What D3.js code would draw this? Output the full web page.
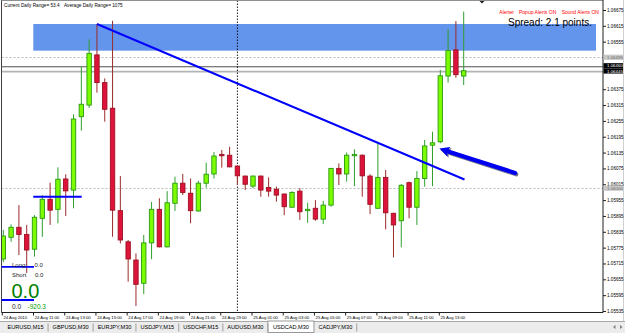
<!DOCTYPE html>
<html><head><meta charset="utf-8">
<script src="https://cdn.jsdelivr.net/npm/d3@7/dist/d3.min.js"></script>
<style>
body{margin:0;background:#fff;}
svg{display:block;font-family:"Liberation Sans",Arial,sans-serif;}
</style>
</head><body>
<svg id="c" width="625" height="333"></svg>
<script>
// ---- DATA (USDCAD, M30) ----
const bars = [
 "24 Aug 09:00","24 Aug 09:30","24 Aug 10:00","24 Aug 10:30","24 Aug 11:00","24 Aug 11:30","24 Aug 12:00","24 Aug 12:30",
 "24 Aug 13:00","24 Aug 13:30","24 Aug 14:00","24 Aug 14:30","24 Aug 15:00","24 Aug 15:30","24 Aug 16:00","24 Aug 16:30",
 "24 Aug 17:00","24 Aug 17:30","24 Aug 18:00","24 Aug 18:30","24 Aug 19:00","24 Aug 19:30","24 Aug 20:00","24 Aug 20:30",
 "24 Aug 21:00","24 Aug 21:30","24 Aug 22:00","24 Aug 22:30","24 Aug 23:00","24 Aug 23:30","25 Aug 00:00","25 Aug 00:30",
 "25 Aug 01:00","25 Aug 01:30","25 Aug 02:00","25 Aug 02:30","25 Aug 03:00","25 Aug 03:30","25 Aug 04:00","25 Aug 04:30",
 "25 Aug 05:00","25 Aug 05:30","25 Aug 06:00","25 Aug 06:30","25 Aug 07:00","25 Aug 07:30","25 Aug 08:00","25 Aug 08:30",
 "25 Aug 09:00","25 Aug 09:30","25 Aug 10:00","25 Aug 10:30","25 Aug 11:00","25 Aug 11:30","25 Aug 12:00","25 Aug 12:30",
 "25 Aug 13:00","25 Aug 13:30","25 Aug 14:00","25 Aug 14:30"];
const openP = [1.05732,1.05814,1.05852,1.05825,1.05769,1.05886,1.05958,1.05920,1.06035,1.05993,
 1.06271,1.06315,1.06505,1.06400,1.06303,1.05915,1.05797,1.05728,1.05640,1.05793,
 1.05920,1.05778,1.05943,1.06019,1.05981,1.05914,1.06019,1.06054,1.06128,1.06125,
 1.06084,1.06046,1.06008,1.06046,1.06003,1.05996,1.05978,1.05928,1.05989,1.05915,
 1.05924,1.05883,1.05936,1.06075,1.06054,1.06123,1.06125,1.06046,1.05924,1.06041,
 1.05905,1.05877,1.06021,1.05928,1.06037,1.06163,1.06176,1.06425,1.06524,1.06425];
const highP = [1.05842,1.05863,1.05936,1.05861,1.05898,1.05974,1.06021,1.06079,1.06053,1.06280,
 1.06460,1.06564,1.06622,1.06416,1.06634,1.06046,1.05804,1.05753,1.05823,1.05948,
 1.05962,1.05989,1.06044,1.06054,1.06037,1.06028,1.06097,1.06137,1.06145,1.06157,
 1.06086,1.06048,1.06048,1.06048,1.06041,1.06006,1.05980,1.05989,1.06000,1.05945,
 1.05955,1.05952,1.06077,1.06094,1.06135,1.06147,1.06128,1.06053,1.06170,1.06069,
 1.05907,1.06016,1.06025,1.06065,1.06183,1.06214,1.06448,1.06602,1.06633,1.06669];
const lowP = [1.05720,1.05797,1.05747,1.05679,1.05741,1.05816,1.05861,1.05867,1.05895,1.05924,
 1.06218,1.06304,1.06362,1.06252,1.05816,1.05791,1.05646,1.05554,1.05599,1.05731,
 1.05776,1.05776,1.05914,1.05974,1.05867,1.05911,1.06002,1.06037,1.06078,1.06079,
 1.06012,1.05993,1.06000,1.05968,1.05968,1.05949,1.05898,1.05926,1.05880,1.05869,
 1.05877,1.05864,1.05930,1.06012,1.06025,1.06008,1.05968,1.05902,1.05922,1.05844,
 1.05738,1.05776,1.05886,1.05861,1.06006,1.06008,1.06170,1.06400,1.06418,1.06391];
const closeP = [1.05819,1.05852,1.05825,1.05766,1.05890,1.05958,1.05917,1.06034,1.05990,1.06262,
 1.06318,1.06511,1.06400,1.06299,1.05917,1.05804,1.05732,1.05636,1.05793,1.05920,
 1.05778,1.05945,1.06019,1.05984,1.05915,1.06019,1.06053,1.06122,1.06123,1.06081,
 1.06047,1.06015,1.06046,1.05993,1.05989,1.05974,1.05930,1.05984,1.05911,1.05920,
 1.05883,1.05936,1.06075,1.06054,1.06125,1.06128,1.06047,1.05939,1.06041,1.05907,
 1.05861,1.06011,1.05928,1.06037,1.06160,1.06172,1.06426,1.06521,1.06430,1.06445];

const priceTicks = [1.06675,1.06615,1.06555,1.06375,1.06315,1.06255,1.06195,1.06135,1.06075,
 1.06015,1.05955,1.05895,1.05835,1.05775,1.05715,1.05655,1.05595,1.05535];
const timeTickBars = [0,4,8,12,16,20,24,28,32,36,40,44,48,52,56];
const timeTickLabels = ["24 Aug 2010","24 Aug 11:00","24 Aug 13:00","24 Aug 15:00","24 Aug 17:00",
 "24 Aug 19:00","24 Aug 21:00","24 Aug 23:00","25 Aug 01:00","25 Aug 03:00","25 Aug 05:00",
 "25 Aug 07:00","25 Aug 09:00","25 Aug 11:00","25 Aug 13:00"];

// chart objects (bar index, price)
const zoneBars = [3.84, 75.96], zonePrices = [1.06622, 1.06521];
const trendBars = [12, 59.1], trendPrices = [1.06622, 1.06033];
const levelBars = [3.84, 10.05], levelPrice = 1.05968;
const arrowBars = [65.58, 55.88], arrowPrices = [1.06058, 1.06150];
const separatorBar = 30;
const dottedLevels = [1.06496, 1.06000];
const askLevel = 1.06460, bidLevel = 1.06445;

const tabLabels = ["EURUSD,M15","GBPUSD,M30","EURJPY,M30","USDJPY,M15","USDCHF,M15","AUDUSD,M30","USDCAD,M30","CADJPY,M30"];
const activeTab = "USDCAD,M30";

// ---- LAYOUT ----
const PL = 1.5, PR = 603, PT = 0.5, PB = 312.5;
const x = d3.scaleLinear().domain([0, 59]).range([3.3, 463.7]);
const y = d3.scaleLinear().domain([1.05535, 1.06675]).range([311, 10]);

const svg = d3.select("#c");
svg.append("rect").attr("width",625).attr("height",333).attr("fill","#fff");
svg.append("defs").append("clipPath").attr("id","clip")
  .append("rect").attr("x",PL).attr("y",PT).attr("width",PR-PL).attr("height",PB-PT);
const plot = svg.append("g").attr("clip-path","url(#clip)");

// zone rectangle
plot.append("rect")
  .attr("x", x(zoneBars[0])).attr("width", x(zoneBars[1]) - x(zoneBars[0]))
  .attr("y", y(zonePrices[0])).attr("height", y(zonePrices[1]) - y(zonePrices[0]))
  .attr("fill", "#6495ED");

// horizontal levels
plot.selectAll(".dl").data(dottedLevels).join("line")
  .attr("x1", PL).attr("x2", PR).attr("y1", d => Math.round(y(d))+0.5).attr("y2", d => Math.round(y(d))+0.5)
  .attr("stroke", "#b8b8b8").attr("stroke-width", 1).attr("stroke-dasharray", "2,2");
plot.append("line").attr("x1",PL).attr("x2",PR).attr("y1",y(askLevel)).attr("y2",y(askLevel))
  .attr("stroke","#505050").attr("stroke-width",1);
plot.append("line").attr("x1",PL).attr("x2",PR).attr("y1",y(bidLevel)+0.8).attr("y2",y(bidLevel)+0.8)
  .attr("stroke","#b4b4b4").attr("stroke-width",1.8);

// day separator
plot.append("line").attr("x1", x(separatorBar)).attr("x2", x(separatorBar))
  .attr("y1", PT).attr("y2", PB).attr("stroke","#000").attr("stroke-width",0.9).attr("stroke-dasharray","1.5,1.5");

// candles
const data = bars.map((b,i) => ({i, o:openP[i], h:highP[i], l:lowP[i], c:closeP[i]}));
const bull = d => d.c >= d.o;
plot.selectAll(".wick").data(data).join("line")
  .attr("x1", d => x(d.i)).attr("x2", d => x(d.i))
  .attr("y1", d => y(d.h)).attr("y2", d => y(d.l))
  .attr("stroke", d => bull(d) ? "#2f9f2f" : "#9b2a2a").attr("stroke-width", 1);
const bw = 4.4;
plot.selectAll(".body").data(data).join("rect")
  .attr("x", d => x(d.i) - bw/2).attr("width", bw)
  .attr("y", d => y(Math.max(d.o,d.c)))
  .attr("height", d => Math.max(1, Math.abs(y(d.o) - y(d.c))))
  .attr("fill", d => bull(d) ? "#7CFC00" : "#DC143C")
  .attr("stroke", d => bull(d) ? "#2a9a10" : "#9e1020").attr("stroke-width", 0.9);

// trend line & level line
plot.append("line")
  .attr("x1", x(trendBars[0])).attr("y1", y(trendPrices[0]))
  .attr("x2", x(trendBars[1])).attr("y2", y(trendPrices[1]))
  .attr("stroke","#0000FF").attr("stroke-width",2);
plot.append("line")
  .attr("x1", x(levelBars[0])).attr("x2", x(levelBars[1]))
  .attr("y1", y(levelPrice)).attr("y2", y(levelPrice))
  .attr("stroke","#0000FF").attr("stroke-width",2);

// arrow
function drawArrow(g, dx, dy, col, op){
  const x1 = x(arrowBars[0]), y1 = y(arrowPrices[0]);
  const x2 = x(arrowBars[1]), y2 = y(arrowPrices[1]);
  const ang = Math.atan2(y2-y1, x2-x1);
  const hl = 10, hw = 5;
  const bx = x2 - hl*Math.cos(ang), by = y2 - hl*Math.sin(ang);
  g.append("line").attr("x1",x1+dx).attr("y1",y1+dy).attr("x2",bx+dx).attr("y2",by+dy)
    .attr("stroke",col).attr("stroke-width",4.2).attr("stroke-linecap","round").attr("opacity",op);
  const px = -Math.sin(ang), py = Math.cos(ang);
  g.append("polygon").attr("points",[
     [x2+dx, y2+dy],[bx+px*hw+dx, by+py*hw+dy],[bx+1.5*Math.cos(ang)+dx, by+1.5*Math.sin(ang)+dy],[bx-px*hw+dx, by-py*hw+dy]
   ].map(p=>p.join(",")).join(" ")).attr("fill",col).attr("opacity",op);
}
drawArrow(plot, 1.2, 1.4, "#000030", 0.55);
drawArrow(plot, 0, 0, "#0000F0", 1);

// chart-shift marker
svg.append("path").attr("d","M479,0.5 L485,0.5 L482,3.5 Z").attr("fill","#202020");

// frame
svg.append("line").attr("x1",PL).attr("x2",PL).attr("y1",0).attr("y2",PB).attr("stroke","#404040");
svg.append("line").attr("x1",PL).attr("x2",PR).attr("y1",PT).attr("y2",PT).attr("stroke","#909090");
svg.append("line").attr("x1",PR).attr("x2",PR).attr("y1",0).attr("y2",PB).attr("stroke","#202020");
svg.append("line").attr("x1",PL).attr("x2",PR).attr("y1",PB).attr("y2",PB).attr("stroke","#202020");
svg.append("line").attr("x1",623.5).attr("x2",623.5).attr("y1",0).attr("y2",321).attr("stroke","#d0d0d0");

// price axis
const yAxis = d3.axisRight(y).tickValues(priceTicks).tickFormat(d3.format(".5f")).tickSize(3).tickSizeOuter(0);
const ya = svg.append("g").attr("transform",`translate(${PR},0)`).call(yAxis);
ya.select(".domain").remove();
ya.selectAll("line").attr("stroke","#202020");
ya.selectAll("text").attr("x",4).attr("font-size","4.6px").attr("font-family","Liberation Sans, Arial, sans-serif").attr("fill","#000");

// price labels (boxes)
function priceBox(v, cy, bg, fg){
  const g = svg.append("g");
  g.append("rect").attr("x",PR+0.5).attr("y",cy-2.6).attr("width",19.5).attr("height",5.2).attr("fill",bg);
  g.append("text").attr("x",PR+4).attr("y",cy+1.6).attr("font-size","4.4px").attr("fill",fg).text(d3.format(".5f")(v));
}
dottedLevels.forEach(v => priceBox(v, y(v), "#c8c8c8", "#707070"));
priceBox(askLevel, y(askLevel) - 1, "#000", "#fff");
priceBox(bidLevel, y(askLevel) + 4.2, "#000", "#fff");

// time axis
const xAxis = d3.axisBottom(x).tickValues(timeTickBars).tickFormat((d,i) => timeTickLabels[i]).tickSize(3).tickSizeOuter(0);
const xa = svg.append("g").attr("transform",`translate(-1.5,${PB})`).call(xAxis);
xa.select(".domain").remove();
xa.selectAll("line").attr("stroke","#202020");
xa.selectAll("text").attr("text-anchor","start").attr("x",1.2).attr("y",4).attr("dy","0.71em")
  .attr("font-size","4.2px").attr("font-family","Liberation Sans, Arial, sans-serif").attr("fill","#000");

// info texts
svg.append("line").attr("x1",PL).attr("x2",34).attr("y1",266.9).attr("y2",266.9).attr("stroke","#0000FF").attr("stroke-width",1.8);
svg.append("line").attr("x1",PL).attr("x2",34).attr("y1",300).attr("y2",300).attr("stroke","#0000FF").attr("stroke-width",1.8);
const txt = (s, tx, ty, size, col) => svg.append("text").attr("x",tx).attr("y",ty).attr("font-size",size).attr("fill",col).text(s);
txt("Current Daily Range= 53.4", 4, 7, "4.7px", "#000");
txt("Average Daily Range= 1075", 64, 7, "4.7px", "#000");
txt("Alerter", 499.3, 14, "5px", "#ff0000");
txt("Popup Alerts ON", 519, 14, "5px", "#ff0000");
txt("Sound Alerts ON", 561.7, 14, "5px", "#ff0000");
txt("Spread: 2.1 points.", 508, 25.5, "10px", "#000");
txt("Long:", 12, 267, "6px", "#222");
txt("0.0", 34.5, 267, "6px", "#222");
txt("Short", 12, 276.5, "6px", "#222");
txt("0.0", 35, 276.5, "6px", "#222");
txt("0.0", 11.5, 298, "20px", "#008000");
txt("0.0", 12, 309, "6.5px", "#222");
txt("-920.3", 27.5, 309, "6.5px", "#00a000");

// tabs
const tb = svg.append("g");
tb.append("rect").attr("x",0).attr("y",321).attr("width",625).attr("height",12).attr("fill","#ececec");
tb.append("line").attr("x1",0).attr("x2",625).attr("y1",321.5).attr("y2",321.5).attr("stroke","#a8a8a8");
let cx = 3;
tabLabels.forEach(t => {
  const isA = t === activeTab;
  const tt = tb.append("text").attr("y",329).attr("font-size","5.6px").attr("fill","#000").text(t);
  const w = tt.node().getComputedTextLength();
  const pad = isA ? 3.5 : 4.5;
  const tabW = w + pad*2 + (isA ? 3 : 0);
  if (isA) {
    tb.insert("rect","text").attr("x",cx).attr("y",321).attr("width",tabW).attr("height",11.5)
      .attr("fill","#fff").attr("stroke","#808080").attr("stroke-width",0.8);
  }
  tt.attr("x", cx + pad + (isA ? 1.5 : 0));
  cx += tabW;
  if (!isA) tb.append("line").attr("x1",cx).attr("x2",cx).attr("y1",323.5).attr("y2",331.5).attr("stroke","#a0a0a0");
});
tb.append("path").attr("d","M613,327 L615.5,325 L615.5,329 Z").attr("fill","#808080");
tb.append("path").attr("d","M620,325 L622.5,327 L620,329 Z").attr("fill","#808080");
</script>
</body></html>
